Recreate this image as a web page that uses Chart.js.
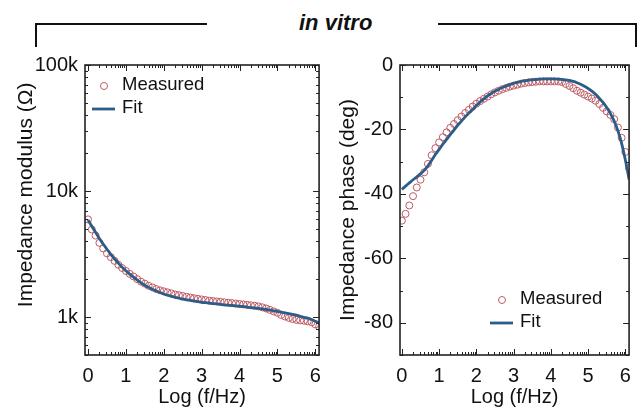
<!DOCTYPE html>
<html lang="en">
<head>
  <meta charset="UTF-8">
  <title>in vitro - impedance</title>
  <script src="https://cdn.jsdelivr.net/npm/chart.js"></script>
  <style>
    body {
      margin: 0;
      background: #fff;
      font-family: 'Liberation Sans', Arial, sans-serif;
    }
    #wrap {
      position: relative;
      width: 640px;
      height: 409px;
      overflow: hidden;
    }
    #wrap canvas {
      position: absolute;
      top: 0;
    }
    #modChart { left: 0; }
    #phaseChart { left: 330px; }
    .bracket {
      position: absolute;
      top: 23px;
      height: 22px;
      border-top: 2px solid #111;
    }
    #brL { left: 35px; width: 170px; border-left: 2px solid #111; }
    #brR { left: 438px; width: 197px; border-right: 2px solid #111; }
    #head {
      position: absolute;
      left: 299px;
      top: 12px;
      line-height: 22px;
      font-size: 22px;
      font-weight: bold;
      font-style: italic;
      color: #111;
    }
  </style>
</head>
<body>
  <div id="wrap">
    <div class="bracket" id="brL"></div>
    <div class="bracket" id="brR"></div>
    <div id="head">in vitro</div>
    <canvas id="modChart" width="330" height="409"></canvas>
    <canvas id="phaseChart" width="310" height="409"></canvas>
  </div>

  <script>
    // log10 of frequency (Hz)
    const freq = [0, 0.1, 0.2, 0.3, 0.4, 0.5, 0.6, 0.7, 0.8, 0.9,
      1, 1.1, 1.2, 1.3, 1.4, 1.5, 1.6, 1.7, 1.8, 1.9,
      2, 2.1, 2.2, 2.3, 2.4, 2.5, 2.6, 2.7, 2.8, 2.9,
      3, 3.1, 3.2, 3.3, 3.4, 3.5, 3.6, 3.7, 3.8, 3.9,
      4, 4.1, 4.2, 4.3, 4.4, 4.5, 4.6, 4.7, 4.8, 4.9,
      5, 5.1, 5.2, 5.3, 5.4, 5.5, 5.6, 5.7, 5.8, 5.9,
      6, 6.1];

    // impedance modulus (ohm)
    const modMeasured = [5960, 4950, 4430, 3880, 3500, 3200, 2990, 2790, 2600, 2450,
      2320, 2200, 2100, 2000, 1910, 1840, 1770, 1720, 1670, 1630,
      1600, 1570, 1540, 1510, 1490, 1470, 1450, 1430, 1410, 1395,
      1380, 1365, 1350, 1340, 1330, 1320, 1310, 1300, 1290, 1280,
      1270, 1260, 1250, 1240, 1230, 1215, 1195, 1170, 1140, 1110,
      1080, 1040, 1010, 985, 965, 950, 940, 935, 925, 910,
      875, 840];
    const modFit = [5900, 5250, 4700, 4200, 3800, 3450, 3150, 2900, 2680, 2490,
      2330, 2190, 2070, 1960, 1870, 1790, 1720, 1660, 1610, 1565,
      1525, 1490, 1460, 1435, 1410, 1390, 1370, 1355, 1340, 1325,
      1310, 1300, 1290, 1280, 1270, 1260, 1250, 1242, 1235, 1227,
      1218, 1210, 1200, 1190, 1180, 1170, 1160, 1148, 1135, 1122,
      1110, 1095, 1080, 1065, 1050, 1035, 1015, 995, 980, 955,
      925, 900];

    // impedance phase (deg)
    const phaseMeasured = [-48.3, -46.2, -43.6, -40.7, -38.0, -35.6, -33.3, -30.7, -28.0, -25.8,
      -24.0, -22.4, -20.9, -19.5, -18.3, -17.1, -16.0, -14.9, -13.9, -12.9,
      -12.0, -11.2, -10.5, -9.8, -9.1, -8.5, -8.0, -7.5, -7.1, -6.7,
      -6.4, -6.1, -5.8, -5.6, -5.4, -5.3, -5.2, -5.1, -5.1, -5.1,
      -5.1, -5.1, -5.1, -5.3, -5.9, -6.5, -7.2, -8.0, -8.6, -9.2,
      -9.8, -10.4, -11.1, -12.1, -13.3, -14.4, -15.5, -16.8, -19.4, -22.6,
      -27.0, -32.0];
    const phaseFit = [-38.6, -37.6, -36.6, -35.6, -34.7, -33.8, -32.7, -31.3, -29.6, -27.8,
      -26.2, -24.6, -23.1, -21.6, -20.2, -18.7, -17.4, -16.1, -14.9, -13.8,
      -12.6, -11.5, -10.5, -9.6, -8.8, -8.1, -7.5, -7.0, -6.5, -6.1,
      -5.7, -5.4, -5.1, -4.9, -4.7, -4.6, -4.5, -4.4, -4.3, -4.3,
      -4.3, -4.3, -4.4, -4.5, -4.6, -4.8, -5.1, -5.5, -6.0, -6.6,
      -7.3, -8.1, -9.1, -10.3, -11.6, -13.2, -15.1, -17.4, -20.4, -24.3,
      -29.5, -35.5];

    const xTicks = [0, 1, 2, 3, 4, 5, 6];
    const modTicks = [1000, 10000, 100000];
    const modTickLabels = ['1k', '10k', '100k'];
    const phaseTicks = [-80, -60, -40, -20, 0];

    const seriesNames = ['Measured', 'Fit'];

    const FONT = 'Liberation Sans';
    const measuredColor = '#bd5a63';
    const fitColor = '#2b5d88';

    function pts(xs, ys) {
      return xs.map((x, i) => ({ x: x, y: ys[i] }));
    }

    // minor ticks: log-spaced inside each unit / decade
    function logMinors(lo, hi, asLog) {
      const out = [];
      for (let d = Math.floor(lo); d <= Math.ceil(hi); d++) {
        for (let m = 2; m <= 9; m++) {
          const v = asLog ? m * Math.pow(10, d) : d + Math.log10(m);
          out.push(v);
        }
      }
      return out;
    }

    // box + inward ticks on all four sides
    const framePlugin = {
      id: 'frame',
      afterDatasetsDraw(chart, args, opts) {
        const { ctx, chartArea: a, scales } = chart;
        const x = scales.x, y = scales.y;
        ctx.save();
        ctx.strokeStyle = '#222';
        ctx.lineWidth = 1;
        ctx.beginPath();
        const xs = (vals, len) => vals.forEach(v => {
          if (v < x.min || v > x.max) return;
          const p = Math.round(x.getPixelForValue(v)) + 0.5;
          ctx.moveTo(p, a.bottom); ctx.lineTo(p, a.bottom - len);
          ctx.moveTo(p, a.top); ctx.lineTo(p, a.top + len);
        });
        const ys = (vals, len) => vals.forEach(v => {
          if (v < y.min || v > y.max) return;
          const p = Math.round(y.getPixelForValue(v)) + 0.5;
          ctx.moveTo(a.left, p); ctx.lineTo(a.left + len, p);
          ctx.moveTo(a.right, p); ctx.lineTo(a.right - len, p);
        });
        xs(x.ticks.map(t => t.value), 6);
        xs(opts.xMinor || [], 3);
        ys(y.ticks.map(t => t.value), 6);
        ys(opts.yMinor || [], 3);
        ctx.stroke();
        ctx.lineWidth = 1.6;
        ctx.strokeRect(a.left, a.top, a.width, a.height);
        ctx.restore();
      }
    };

    const legendPlugin = {
      id: 'boxLegend',
      afterDraw(chart, args, opts) {
        const { ctx, chartArea: a } = chart;
        const tx = a.left + opts.x;
        const ty = a.top + opts.y;
        ctx.save();
        ctx.font = '18.5px ' + FONT;
        ctx.textBaseline = 'middle';
        ctx.fillStyle = '#111';
        chart.data.datasets.forEach((ds, i) => {
          const yy = ty + i * 23;
          if (ds.showLine === false) {
            ctx.beginPath();
            ctx.arc(tx - 18, yy + 1, ds.pointRadius, 0, Math.PI * 2);
            ctx.lineWidth = ds.pointBorderWidth;
            ctx.strokeStyle = ds.pointBorderColor;
            ctx.stroke();
          } else {
            ctx.beginPath();
            ctx.moveTo(tx - 30, yy + 1);
            ctx.lineTo(tx - 7, yy + 1);
            ctx.lineWidth = ds.borderWidth;
            ctx.strokeStyle = ds.borderColor;
            ctx.stroke();
          }
          ctx.fillText(ds.label, tx, yy);
        });
        ctx.restore();
      }
    };

    function datasets(measured, fit) {
      return [{
        label: seriesNames[0],
        data: pts(freq, measured),
        showLine: false,
        pointStyle: 'circle',
        pointRadius: 3.5,
        pointBorderWidth: 1,
        pointBorderColor: measuredColor,
        pointBackgroundColor: 'rgba(255,255,255,0)',
        order: 1
      }, {
        label: seriesNames[1],
        data: pts(freq, fit),
        borderColor: fitColor,
        borderWidth: 2.8,
        pointRadius: 0,
        cubicInterpolationMode: 'monotone',
        fill: false,
        order: 0
      }];
    }

    function xScale(min, max) {
      return {
        type: 'linear',
        min: min,
        max: max,
        afterBuildTicks: s => { s.ticks = xTicks.map(v => ({ value: v })); },
        afterFit: s => { s.height = 54; },
        grid: { display: false, drawTicks: false },
        border: { display: false },
        ticks: { font: { family: FONT, size: 20 }, color: '#111', padding: 9, autoSkip: false, maxRotation: 0 },
        title: { display: true, text: 'Log (f/Hz)', font: { family: FONT, size: 20 }, color: '#111', padding: { top: 0, bottom: 0 } }
      };
    }

    function baseOptions(padRight) {
      return {
        responsive: false,
        animation: false,
        devicePixelRatio: 1,
        events: [],
        layout: { padding: { left: 0, right: padRight, top: 65, bottom: 0 } },
        plugins: { legend: { display: false }, tooltip: { enabled: false } }
      };
    }

    // left: impedance modulus
    const modOpts = baseOptions(9);
    modOpts.scales = {
      x: xScale(-0.08, 6.1),
      y: {
        type: 'logarithmic',
        min: 500,
        max: 100000,
        afterBuildTicks: s => { s.ticks = modTicks.map(v => ({ value: v })); },
        afterFit: s => { s.width = 85; },
        grid: { display: false, drawTicks: false },
        border: { display: false },
        ticks: {
          font: { family: FONT, size: 20 }, color: '#111', padding: 7, autoSkip: false,
          callback: v => modTickLabels[modTicks.indexOf(v)]
        },
        // title sits a little above the axis middle in the original
        title: {
          display: true, text: 'Impedance modulus (Ω)   ', align: 'end',
          font: { family: FONT, size: 21 }, color: '#111', padding: { top: 14, bottom: 0 }
        }
      }
    };
    modOpts.plugins.frame = { xMinor: logMinors(0, 6, false), yMinor: logMinors(2, 4, true) };
    modOpts.plugins.boxLegend = { x: 37, y: 20 };

    new Chart(document.getElementById('modChart'), {
      type: 'line',
      data: { datasets: datasets(modMeasured, modFit) },
      options: modOpts,
      plugins: [framePlugin, legendPlugin]
    });

    // right: impedance phase
    const phaseOpts = baseOptions(3);
    phaseOpts.scales = {
      x: xScale(-0.05, 6.1),
      y: {
        type: 'linear',
        min: -90,
        max: 0,
        afterBuildTicks: s => { s.ticks = phaseTicks.map(v => ({ value: v })); },
        afterFit: s => { s.width = 70; },
        grid: { display: false, drawTicks: false },
        border: { display: false },
        ticks: { font: { family: FONT, size: 20 }, color: '#111', padding: 7, autoSkip: false },
        title: { display: true, text: 'Impedance phase (deg)', font: { family: FONT, size: 21 }, color: '#111', padding: { top: 6, bottom: 0 } }
      }
    };
    phaseOpts.plugins.frame = { xMinor: logMinors(0, 6, false), yMinor: [-90, -70, -50, -30, -10] };
    phaseOpts.plugins.boxLegend = { x: 120, y: 234 };

    new Chart(document.getElementById('phaseChart'), {
      type: 'line',
      data: { datasets: datasets(phaseMeasured, phaseFit) },
      options: phaseOpts,
      plugins: [framePlugin, legendPlugin]
    });
  </script>
</body>
</html>
